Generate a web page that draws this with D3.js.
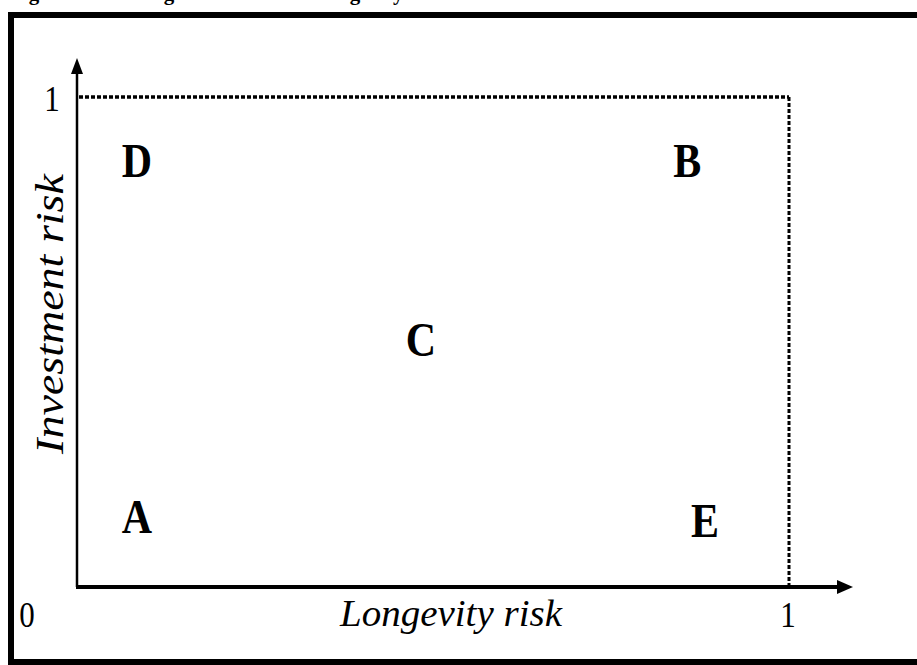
<!DOCTYPE html>
<html>
<head>
<meta charset="utf-8">
<script src="https://cdn.jsdelivr.net/npm/d3@7"></script>
<style>
  body { margin: 0; background: #fff; }
  svg text { font-family: "Times New Roman", Times, "Liberation Serif", serif; fill: #000; }
</style>
</head>
<body>
<div id="graph_field"></div>
<script>
// Regions of the risk map (letter and its position on the 0..1 axes)
let regionLabels = ["D", "B", "C", "A", "E"];
let regionLongevity = [0.084, 0.857, 0.483, 0.084, 0.882];
let regionInvestment = [0.871, 0.871, 0.504, 0.143, 0.135];

// axis ends (0 and 1) and their labels
let axisTicks = [0, 1];
let tickLabels = ["0", "1"];
let xTitle = "Longevity risk";
let yTitle = "Investment risk";
let figTitle = "Figure 1: Insuring investment and longevity risk";

let width = 917;
let height = 665;
let stretch = 1.18; // the original picture is a bit taller than wide

let svg = d3.select("#graph_field")
    .append("svg")
    .attr("width", width)
    .attr("height", height);

// title, mostly cut off at the top of the page
svg.append("text")
    .attr("x", 10)
    .attr("y", 0)
    .style("font-size", "21px")
    .style("font-weight", "bold")
    .text(figTitle);

// thick frame round the figure (runs off the right edge)
svg.append("rect")
    .attr("x", 11)
    .attr("y", 15)
    .attr("width", 1000)
    .attr("height", 647)
    .attr("fill", "none")
    .attr("stroke", "#000")
    .attr("stroke-width", 6);

let x = d3.scaleLinear().domain([0, 1]).range([77, 789]);
let y = d3.scaleLinear().domain([0, 1]).range([587, 97]);

function place(px, py, extra, k) {
    return "translate(" + px + "," + py + ") scale(1," + (k || stretch) + ")" + (extra || "");
}

// dotted box at risk = 1
svg.append("path")
    .attr("d", "M" + (x(0) + 2) + "," + y(1) + "H" + x(1))
    .attr("stroke", "#000")
    .attr("stroke-width", 3.5)
    .attr("stroke-dasharray", "4,2")
    .attr("fill", "none");

svg.append("path")
    .attr("d", "M" + x(1) + "," + y(1) + "V" + y(0))
    .attr("stroke", "#000")
    .attr("stroke-width", 3)
    .attr("stroke-dasharray", "4,2")
    .attr("fill", "none");

// axes with arrow heads
svg.append("line")
    .attr("x1", x(0)).attr("y1", y(0))
    .attr("x2", x(0)).attr("y2", 70)
    .attr("stroke", "#000")
    .attr("stroke-width", 2.5);

svg.append("path")
    .attr("d", "M" + (x(0) - 6) + ",74L" + x(0) + ",58L" + (x(0) + 6) + ",74Z")
    .attr("fill", "#000");

svg.append("line")
    .attr("x1", x(0) - 1).attr("y1", y(0))
    .attr("x2", 840).attr("y2", y(0))
    .attr("stroke", "#000")
    .attr("stroke-width", 4);

svg.append("path")
    .attr("d", "M837," + (y(0) - 7) + "L853," + y(0) + "L837," + (y(0) + 7) + "Z")
    .attr("fill", "#000");

// tick labels
svg.selectAll(".xtick")
    .data(axisTicks)
    .enter()
    .append("text")
    .attr("class", "xtick")
    .attr("transform", function(d) { return place(d === 0 ? 27 : x(d) - 1, 627); })
    .style("text-anchor", "middle")
    .style("font-size", "31px")
    .text(function(d, i) { return tickLabels[i]; });

svg.append("text")
    .attr("transform", place(52, y(1) + 14))
    .style("text-anchor", "middle")
    .style("font-size", "31px")
    .text(tickLabels[1]);

// axis titles
svg.append("text")
    .attr("transform", place(451, 626, "", 0.95))
    .style("text-anchor", "middle")
    .style("font-size", "39px")
    .style("font-style", "italic")
    .text(xTitle);

svg.append("text")
    .attr("transform", place(63, 314, " rotate(-90)"))
    .style("text-anchor", "middle")
    .style("font-size", "39px")
    .style("font-style", "italic")
    .text(yTitle);

// region letters
svg.selectAll(".region")
    .data(regionLabels)
    .enter()
    .append("text")
    .attr("class", "region")
    .attr("transform", function(d, i) { return place(x(regionLongevity[i]), y(regionInvestment[i])); })
    .attr("dy", "0.33em")
    .style("text-anchor", "middle")
    .style("font-size", "42px")
    .style("font-weight", "bold")
    .text(function(d) { return d; });
</script>
</body>
</html>
